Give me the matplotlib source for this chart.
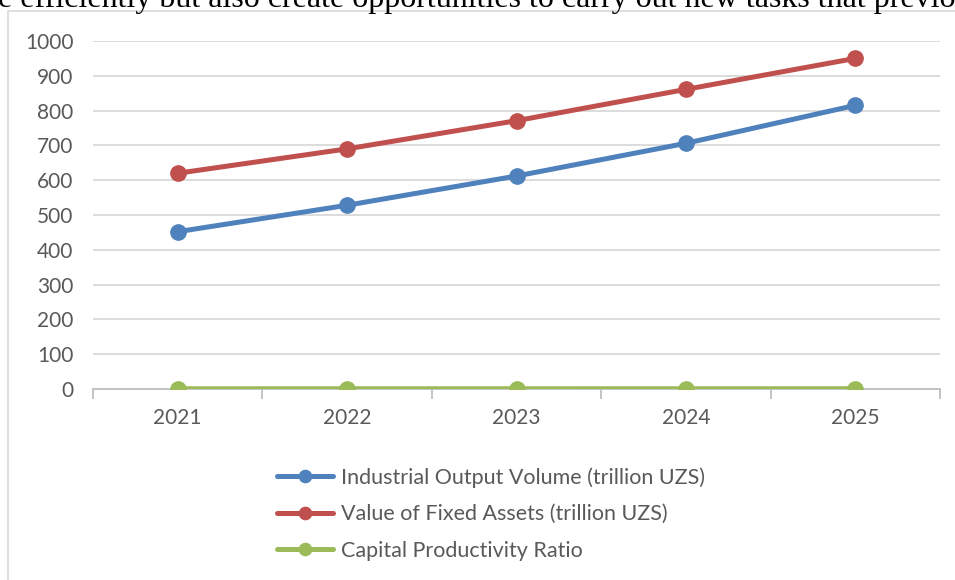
import matplotlib
matplotlib.use("Agg")
import matplotlib.pyplot as plt
from matplotlib.patches import Rectangle

years = ['2021', '2022', '2023', '2024', '2025']
output_volume = [452, 528, 612, 706, 815]
fixed_assets = [620, 690, 771, 861, 950]
capital_ratio = [0.73, 0.77, 0.79, 0.82, 0.86]

series_names = ['Industrial Output Volume (trillion UZS)',
                'Value of Fixed Assets (trillion UZS)',
                'Capital Productivity Ratio']
colors = ['#4F81BD', '#C0504D', '#9BBB59']

plt.rcParams['font.family'] = ['Lato', 'DejaVu Sans']

W, H = 955, 580
fig = plt.figure(figsize=(W / 100, H / 100), dpi=100)

# cut-off line of the surrounding document text
fig.text(-0.002, 1 - 7.5 / H, 'e efficiently but also create opportunities to carry out new tasks that previo',
         family=['Liberation Serif'], fontsize=23, color='black', va='baseline', ha='left')

# chart frame
fig.patches.append(Rectangle((8 / W, -0.1), 1.2, 1 - 11 / H + 0.1, transform=fig.transFigure,
                             fill=False, edgecolor='#D9D9D9', linewidth=1.2))

ax = fig.add_axes([93 / W, 1 - 389 / H, (940 - 93) / W, (389 - 41) / H])

x = range(len(years))
for vals, name, c in zip([output_volume, fixed_assets, capital_ratio], series_names, colors):
    ax.plot(x, vals, color=c, linewidth=3.6, marker='o', markersize=11,
            solid_capstyle='round', label=name, zorder=3)

ax.set_xlim(-0.5, len(years) - 0.5)
ax.set_ylim(0, 1000)
ax.set_yticks(range(0, 1001, 100))
ax.set_xticks(list(x))
ax.set_xticklabels(years)
ax.set_xticks([i - 0.5 for i in range(len(years) + 1)], minor=True)

ax.grid(axis='y', color='#D9D9D9', linewidth=1.3)
ax.set_axisbelow(True)
for s in ['top', 'right', 'left']:
    ax.spines[s].set_visible(False)
ax.spines['bottom'].set_color('#BFBFBF')
ax.spines['bottom'].set_linewidth(1.3)

ax.tick_params(axis='y', length=0, pad=14, labelsize=15, labelcolor='#595959')
ax.tick_params(axis='x', which='major', length=0, pad=14, labelsize=15, labelcolor='#595959')
ax.tick_params(axis='x', which='minor', length=7, width=1.3, color='#BFBFBF')

fig.legend(loc='center left', bbox_to_anchor=(277 / W, 1 - 514 / H), frameon=False,
           fontsize=15.5, labelcolor='#595959', handlelength=2.6, handletextpad=0.37,
           labelspacing=0.77, borderpad=0, borderaxespad=0, markerscale=0.8)

fig.savefig('out.png', dpi=100)
